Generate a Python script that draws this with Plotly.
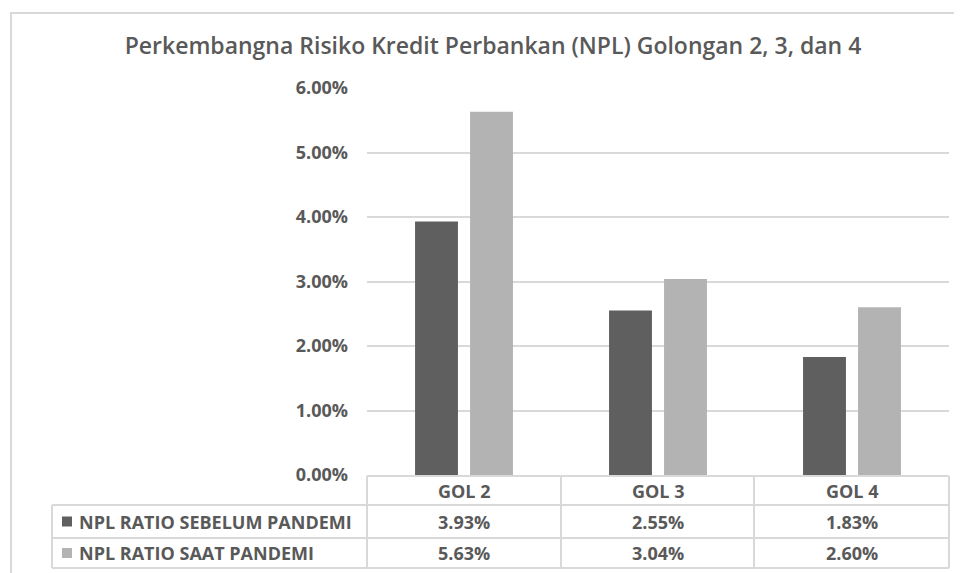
import plotly.graph_objects as go

# ---- data ----
categories = ["GOL 2", "GOL 3", "GOL 4"]
series_names = ["NPL RATIO SEBELUM PANDEMI", "NPL RATIO SAAT PANDEMI"]
sebelum = [3.93, 2.55, 1.83]
saat = [5.63, 3.04, 2.60]
y_ticks = [0, 1, 2, 3, 4, 5, 6]
y_tick_labels = ["0.00%", "1.00%", "2.00%", "3.00%", "4.00%", "5.00%", "6.00%"]
title_text = "Perkembangna Risiko Kredit Perbankan (NPL) Golongan 2, 3, dan 4"

# ---- style ----
OFF = 8                      # page body margin offset
W, H = 962 - OFF, 573 - OFF
PL, PR, PT, PB = 367, 949, 88, 475   # plot area in page pixels
DARK = "#5f5f5f"
LIGHT = "#b3b3b3"
TXT = "#595959"
GRID = "#d9d9d9"
FONT = "Open Sans"
FS = 18


def px2x(px):
    return (px - PL) / (PR - PL)


def px2y(py):
    return (PB - py) / (PB - PT)


fig = go.Figure()
fig.add_trace(go.Bar(x=categories, y=sebelum, name=series_names[0], marker_color=DARK,
                     marker_line_width=0))
fig.add_trace(go.Bar(x=categories, y=saat, name=series_names[1], marker_color=LIGHT,
                     marker_line_width=0))

shapes = []
annotations = []

# outer chart border
shapes.append(dict(type="rect", xref="paper", yref="paper",
                   x0=px2x(11), x1=px2x(1010), y0=px2y(13), y1=px2y(640),
                   line=dict(color=GRID, width=2), fillcolor="rgba(0,0,0,0)", layer="below"))

# data table grid
row_lines = [476, 505, 538, 568]
col_lines = [367, 561, 754, 949]
line_style = dict(color=GRID, width=2)
shapes.append(dict(type="line", xref="paper", yref="paper", x0=px2x(367), x1=px2x(949),
                   y0=px2y(476), y1=px2y(476), line=line_style))
for ry in row_lines[1:]:
    shapes.append(dict(type="line", xref="paper", yref="paper", x0=px2x(52), x1=px2x(949),
                       y0=px2y(ry), y1=px2y(ry), line=line_style))
for cx in col_lines:
    shapes.append(dict(type="line", xref="paper", yref="paper", x0=px2x(cx), x1=px2x(cx),
                       y0=px2y(476), y1=px2y(568), line=line_style))
shapes.append(dict(type="line", xref="paper", yref="paper", x0=px2x(52), x1=px2x(52),
                   y0=px2y(505), y1=px2y(568), line=line_style))

tfont = dict(family=FONT, size=FS, color=TXT, weight="bold")

# header labels
for c in categories:
    annotations.append(dict(x=c, xref="x", y=px2y(490.5), yref="paper", text=c,
                            showarrow=False, xanchor="center", yanchor="middle", font=tfont))

row_centers = [521.5, 553]
colors = [DARK, LIGHT]
for name, vals, yc, col in zip(series_names, [sebelum, saat], row_centers, colors):
    shapes.append(dict(type="rect", xref="paper", yref="paper",
                       x0=px2x(62), x1=px2x(72), y0=px2y(yc - 5), y1=px2y(yc + 5),
                       fillcolor=col, line=dict(width=0)))
    annotations.append(dict(x=px2x(77), xref="paper", y=px2y(yc), yref="paper", text=name,
                            showarrow=False, xanchor="left", yanchor="middle", font=tfont))
    for c, v in zip(categories, vals):
        annotations.append(dict(x=c, xref="x", y=px2y(yc), yref="paper", text=f"{v:.2f}%",
                                showarrow=False, xanchor="center", yanchor="middle",
                                font=tfont))

fig.update_layout(
    width=W, height=H,
    margin=dict(l=PL - OFF, r=W - (PR - OFF), t=PT - OFF, b=H - (PB - OFF), pad=0),
    paper_bgcolor="white", plot_bgcolor="white",
    barmode="group", bargap=0.433, bargroupgap=0.22,
    showlegend=False,
    title=dict(text=title_text, x=px2x(493), xref="paper", xanchor="center",
               y=1 - (46 - OFF) / H, yref="container", yanchor="middle",
               font=dict(family=FONT, size=23, color=TXT, weight=600)),
    xaxis=dict(showticklabels=False, showgrid=False, zeroline=False, showline=False,
               ticks=""),
    yaxis=dict(range=[0, 6], tickvals=y_ticks, ticktext=y_tick_labels,
               showgrid=True, gridcolor=GRID, gridwidth=2, zeroline=False, showline=False,
               ticks="", ticklabelstandoff=18, tickfont=tfont),
    shapes=shapes,
    annotations=annotations,
)

fig.write_html("out.html")
